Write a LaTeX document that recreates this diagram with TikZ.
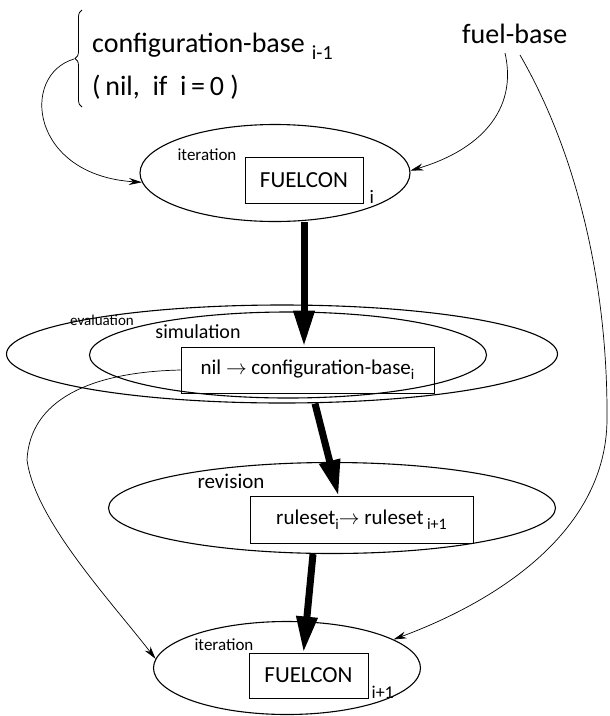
\documentclass[tikz,border=0pt]{standalone}
\usepackage{fontspec}
\setmainfont{Carlito}
\usetikzlibrary{arrows.meta,positioning,shapes,decorations.pathreplacing}

\tikzstyle{stage}=[ellipse, draw=black, line width=1.1pt, inner sep=0pt]
\tikzstyle{module}=[rectangle, draw=black, line width=0.9pt, inner sep=0pt]
\tikzstyle{tag}=[inner sep=0pt, font=\fontsize{17}{18}\selectfont]
\tikzstyle{note}=[inner sep=0pt, anchor=base west, font=\fontsize{28}{30}\selectfont]
\tikzstyle{flow}=[line width=0.7pt, -{Stealth[length=13pt,width=7pt]}]
\tikzstyle{bigflow}=[line width=7pt, -{Triangle[length=36pt,width=20pt]}]
\newcommand{\fsub}[2][14]{\raisebox{-0.25em}{\fontsize{#1}{#1}\selectfont #2}}

\begin{document}
\begin{tikzpicture}[x=1pt, y=-1pt]
	\useasboundingbox (0,0) rectangle (610,716);
	
	% inputs
	\node[note] at (92,52) (cfg) {configuration-base\hspace{7pt}\fsub[20]{i-1}};
	\node[note] at (92,95) (cfgnil) {(\,nil,\ \ if\ \ i\,=\,0\ )};
	\node[note] at (462,43) (fuel) {fuel-base};
	\draw[line width=0.8pt, decorate, decoration={brace, amplitude=7pt}] (82,107) -- (82,10);
	\coordinate (bracetip) at (74,59);
	\coordinate (fuelA) at (505,53);
	\coordinate (fuelB) at (520,55);
	
	% iteration i
	\node[stage, minimum width=270pt, minimum height=97pt] at (275,173) (iter1) {};
	\node[tag] at (207,155) (iter1tag) {iteration};
	\node[module, minimum width=118pt, minimum height=46pt, font=\fontsize{23}{24}\selectfont] at (304,180) (con1) {FUELCON};
	\node[tag, font=\fontsize{19}{20}\selectfont, anchor=south west] at ([xshift=6pt]con1.south east) (con1sub) {i};
	
	% evaluation
	\node[stage, minimum width=551pt, minimum height=98pt] at (282,354) (evaluation) {};
	\node[stage, minimum width=397pt, minimum height=86pt] at (288,355) (simulation) {};
	\node[tag, font=\fontsize{15}{16}\selectfont] at (102,320) (evaltag) {evaluation};
	\node[tag, font=\fontsize{20}{21}\selectfont] at (198,332) (simtag) {simulation};
	\node[module, minimum width=253pt, minimum height=46pt, font=\fontsize{21}{22}\selectfont] at (307.5,370) (sim) {nil $\rightarrow$ configuration-base\fsub[15]{i}};
	
	% revision
	\node[stage, minimum width=447pt, minimum height=91pt] at (332,508) (revision) {};
	\node[tag, font=\fontsize{21}{22}\selectfont] at (231,481) (revtag) {revision};
	\node[module, minimum width=223pt, minimum height=47pt, font=\fontsize{21}{22}\selectfont] at (361.5,520) (rev) {ruleset\fsub[15]{i}$\rightarrow$ ruleset\,\fsub[16]{i+1}};
	
	% iteration i+1
	\node[stage, minimum width=267pt, minimum height=93pt] at (287,668) (iter2) {};
	\node[tag] at (224,645) (iter2tag) {iteration};
	\node[module, minimum width=119pt, minimum height=45pt, font=\fontsize{23}{24}\selectfont] at (308.5,675.5) (con2) {FUELCON};
	\node[tag, font=\fontsize{18}{19}\selectfont, anchor=south west] at ([xshift=3pt]con2.south east) (con2sub) {i+1};
	
	% main flow
	\draw[bigflow] (con1 |- iter1.south) -- (con1 |- sim.north);
	\draw[bigflow] ([xshift=33pt]evaluation.south) -- ([xshift=-23pt]rev.north);
	\draw[bigflow] ([xshift=-19pt]revision.south) -- ([xshift=-5pt]con2.north);
	
	% data
	\draw[flow] (bracetip) .. controls (20,75) and (30,175) .. (iter1.184);
	\draw[flow] (fuelA) .. controls (518,110) and (480,150) .. (iter1.1);
	\draw[flow] (fuelB) .. controls (575,150) and (608,280) .. (607,420) .. controls (606,530) and (500,600) .. (iter2.15);
	\draw[flow] (sim.west) .. controls (90,372) and (30,400) .. (27,460) .. controls (35,520) and (110,600) .. (iter2.176);
	
\end{tikzpicture}
\end{document}
